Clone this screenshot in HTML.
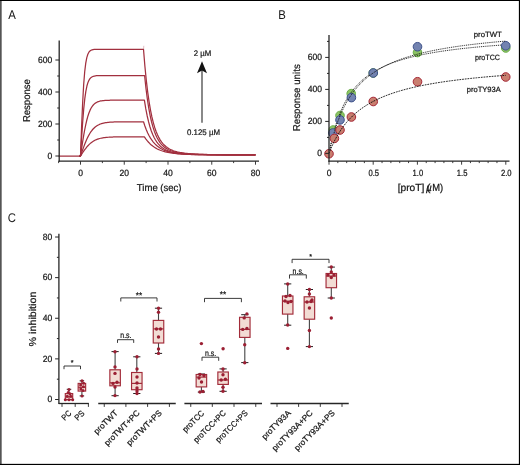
<!DOCTYPE html>
<html><head><meta charset="utf-8"><title>Figure</title>
<style>
html,body{margin:0;padding:0;background:#fff;}
body{width:520px;height:465px;overflow:hidden;font-family:'Liberation Sans', Arial, sans-serif;}
svg{display:block;font-family:'Liberation Sans', Arial, sans-serif;text-rendering:geometricPrecision;}
</style></head>
<body>
<svg width="520" height="465" viewBox="0 0 520 465">
<rect x="0" y="0" width="520" height="465" fill="#ffffff"/>
<path d="M58.62,156.00 L79.84,156.00 L80.50,156.00 L81.56,154.37 L82.63,152.76 L83.69,151.20 L84.76,149.70 L85.82,148.28 L86.89,146.96 L87.95,145.74 L89.02,144.63 L90.08,143.62 L91.15,142.71 L92.21,141.91 L93.28,141.20 L94.34,140.58 L95.40,140.04 L96.47,139.57 L97.53,139.16 L98.60,138.81 L99.66,138.51 L100.73,138.25 L101.79,138.03 L102.86,137.84 L103.92,137.68 L104.99,137.55 L106.05,137.43 L107.11,137.34 L108.18,137.25 L109.24,137.18 L110.31,137.12 L111.37,137.07 L112.44,137.03 L113.50,136.99 L114.57,136.96 L115.63,136.94 L116.70,136.92 L117.76,136.90 L118.82,136.88 L119.89,136.87 L120.95,136.86 L122.02,136.85 L123.08,136.84 L124.15,136.84 L125.21,136.83 L126.28,136.83 L127.34,136.82 L128.41,136.82 L129.47,136.82 L130.54,136.81 L131.60,136.81 L132.66,136.81 L133.73,136.81 L134.79,136.81 L135.86,136.81 L136.92,136.80 L137.99,136.80 L139.05,136.80 L140.12,136.80 L141.18,136.80 L142.25,136.80 L143.31,136.80 L144.38,136.80 L145.76,138.85 L147.15,140.66 L148.54,142.26 L149.93,143.68 L151.32,144.94 L152.71,146.06 L154.10,147.04 L155.49,147.92 L156.88,148.69 L158.27,149.38 L159.65,149.99 L161.04,150.53 L162.43,151.00 L163.82,151.43 L165.21,151.81 L166.60,152.14 L167.99,152.44 L169.38,152.70 L170.77,152.94 L172.16,153.15 L173.55,153.33 L174.93,153.50 L176.32,153.65 L177.71,153.78 L179.10,153.89 L180.49,154.00 L181.88,154.09 L183.27,154.17 L184.66,154.25 L186.05,154.31 L187.44,154.37 L188.82,154.42 L190.21,154.47 L191.60,154.51 L192.99,154.55 L194.38,154.58 L195.77,154.61 L197.16,154.64 L198.55,154.66 L199.94,154.68 L201.33,154.70 L202.72,154.72 L204.10,154.74 L205.49,154.75 L206.88,154.76 L208.27,154.77 L209.66,154.78 L211.05,154.79 L212.44,154.80 L213.83,154.81 L215.22,154.82 L216.61,154.82 L218.00,154.83 L219.38,154.83 L220.77,154.84 L222.16,154.84 L223.55,154.84 L224.94,154.85 L226.33,154.85 L227.72,154.85 L229.11,154.86 L230.50,154.86 L231.89,154.86 L233.28,154.86 L234.66,154.86 L236.05,154.86 L237.44,154.87 L238.83,154.87 L240.22,154.87 L241.61,154.87 L243.00,154.87 L244.39,154.87 L245.78,154.87 L247.17,154.87 L248.55,154.87 L249.94,154.87 L251.33,154.87 L252.72,154.87 L254.11,154.88 L255.50,154.88" fill="none" stroke="#a2303f" stroke-width="1.25" stroke-linejoin="round"/>
<path d="M79.19,156.00 L80.50,156.00 L81.55,152.97 L82.60,149.98 L83.65,147.09 L84.70,144.32 L85.75,141.72 L86.80,139.31 L87.85,137.09 L88.90,135.08 L89.95,133.28 L91.00,131.68 L92.05,130.26 L93.10,129.03 L94.15,127.95 L95.20,127.02 L96.25,126.22 L97.30,125.53 L98.35,124.95 L99.40,124.45 L100.45,124.03 L101.50,123.67 L102.55,123.37 L103.60,123.11 L104.65,122.89 L105.70,122.71 L106.75,122.56 L107.80,122.43 L108.85,122.32 L109.90,122.23 L110.95,122.15 L112.00,122.09 L113.05,122.04 L114.10,121.99 L115.15,121.95 L116.20,121.92 L117.25,121.90 L118.30,121.87 L119.35,121.86 L120.40,121.84 L121.45,121.83 L122.50,121.82 L123.55,121.81 L124.60,121.80 L125.65,121.79 L126.70,121.79 L127.75,121.78 L128.80,121.78 L129.85,121.78 L130.90,121.77 L131.95,121.77 L133.00,121.77 L134.05,121.77 L135.10,121.77 L136.15,121.77 L137.20,121.76 L138.25,121.76 L139.30,121.76 L140.35,121.76 L141.40,121.76 L142.45,121.76 L143.50,121.76 L144.90,126.01 L146.30,129.70 L147.70,132.91 L149.10,135.70 L150.50,138.12 L151.90,140.23 L153.30,142.06 L154.70,143.66 L156.10,145.05 L157.50,146.26 L158.90,147.32 L160.30,148.24 L161.70,149.04 L163.10,149.75 L164.50,150.36 L165.90,150.90 L167.30,151.37 L168.70,151.78 L170.10,152.14 L171.50,152.46 L172.90,152.73 L174.30,152.98 L175.70,153.19 L177.10,153.38 L178.50,153.55 L179.90,153.70 L181.30,153.83 L182.70,153.94 L184.10,154.04 L185.50,154.13 L186.90,154.21 L188.30,154.28 L189.70,154.34 L191.10,154.40 L192.50,154.45 L193.90,154.49 L195.30,154.53 L196.70,154.56 L198.10,154.60 L199.50,154.62 L200.90,154.65 L202.30,154.67 L203.70,154.69 L205.10,154.71 L206.50,154.73 L207.90,154.74 L209.30,154.75 L210.70,154.76 L212.10,154.77 L213.50,154.78 L214.90,154.79 L216.30,154.80 L217.70,154.81 L219.10,154.81 L220.50,154.82 L221.90,154.83 L223.30,154.83 L224.70,154.83 L226.10,154.84 L227.50,154.84 L228.90,154.85 L230.30,154.85 L231.70,154.85 L233.10,154.85 L234.50,154.86 L235.90,154.86 L237.30,154.86 L238.70,154.86 L240.10,154.86 L241.50,154.86 L242.90,154.87 L244.30,154.87 L245.70,154.87 L247.10,154.87 L248.50,154.87 L249.90,154.87 L251.30,154.87 L252.70,154.87 L254.10,154.87 L255.50,154.87" fill="none" stroke="#a2303f" stroke-width="1.25" stroke-linejoin="round"/>
<path d="M79.19,156.00 L80.50,156.00 L81.56,148.84 L82.63,141.91 L83.69,135.41 L84.76,129.50 L85.82,124.27 L86.89,119.75 L87.95,115.93 L89.02,112.75 L90.08,110.14 L91.15,108.03 L92.21,106.34 L93.28,105.00 L94.34,103.93 L95.40,103.10 L96.47,102.44 L97.53,101.93 L98.60,101.53 L99.66,101.23 L100.73,100.98 L101.79,100.80 L102.86,100.65 L103.92,100.54 L104.99,100.46 L106.05,100.39 L107.11,100.34 L108.18,100.30 L109.24,100.27 L110.31,100.24 L111.37,100.22 L112.44,100.21 L113.50,100.20 L114.57,100.19 L115.63,100.18 L116.70,100.18 L117.76,100.17 L118.82,100.17 L119.89,100.17 L120.95,100.17 L122.02,100.16 L123.08,100.16 L124.15,100.16 L125.21,100.16 L126.28,100.16 L127.34,100.16 L128.41,100.16 L129.47,100.16 L130.54,100.16 L131.60,100.16 L132.66,100.16 L133.73,100.16 L134.79,100.16 L135.86,100.16 L136.92,100.16 L137.99,100.16 L139.05,100.16 L140.12,100.16 L141.18,100.16 L142.25,100.16 L143.31,100.16 L144.38,100.16 L145.76,108.63 L147.15,115.74 L148.54,121.70 L149.93,126.71 L151.32,130.93 L152.71,134.47 L154.10,137.46 L155.49,139.98 L156.88,142.11 L158.27,143.91 L159.65,145.43 L161.04,146.73 L162.43,147.83 L163.82,148.76 L165.21,149.56 L166.60,150.25 L167.99,150.83 L169.38,151.33 L170.77,151.76 L172.16,152.14 L173.55,152.46 L174.93,152.74 L176.32,152.98 L177.71,153.19 L179.10,153.37 L180.49,153.53 L181.88,153.67 L183.27,153.80 L184.66,153.91 L186.05,154.00 L187.44,154.09 L188.82,154.17 L190.21,154.23 L191.60,154.30 L192.99,154.35 L194.38,154.40 L195.77,154.44 L197.16,154.48 L198.55,154.52 L199.94,154.55 L201.33,154.58 L202.72,154.60 L204.10,154.63 L205.49,154.65 L206.88,154.67 L208.27,154.69 L209.66,154.70 L211.05,154.72 L212.44,154.73 L213.83,154.74 L215.22,154.75 L216.61,154.76 L218.00,154.77 L219.38,154.78 L220.77,154.79 L222.16,154.80 L223.55,154.80 L224.94,154.81 L226.33,154.82 L227.72,154.82 L229.11,154.83 L230.50,154.83 L231.89,154.83 L233.28,154.84 L234.66,154.84 L236.05,154.84 L237.44,154.85 L238.83,154.85 L240.22,154.85 L241.61,154.85 L243.00,154.86 L244.39,154.86 L245.78,154.86 L247.17,154.86 L248.55,154.86 L249.94,154.86 L251.33,154.87 L252.72,154.87 L254.11,154.87 L255.50,154.87" fill="none" stroke="#a2303f" stroke-width="1.25" stroke-linejoin="round"/>
<path d="M79.19,156.00 L80.50,156.00 L81.57,138.44 L82.64,122.48 L83.70,109.18 L84.77,98.87 L85.84,91.33 L86.91,86.04 L87.98,82.43 L89.05,80.03 L90.11,78.44 L91.18,77.41 L92.25,76.74 L93.32,76.30 L94.39,76.02 L95.46,75.84 L96.52,75.73 L97.59,75.65 L98.66,75.61 L99.73,75.57 L100.80,75.56 L101.86,75.54 L102.93,75.53 L104.00,75.53 L105.07,75.53 L106.14,75.52 L107.21,75.52 L108.27,75.52 L109.34,75.52 L110.41,75.52 L111.48,75.52 L112.55,75.52 L113.62,75.52 L114.68,75.52 L115.75,75.52 L116.82,75.52 L117.89,75.52 L118.96,75.52 L120.02,75.52 L121.09,75.52 L122.16,75.52 L123.23,75.52 L124.30,75.52 L125.37,75.52 L126.43,75.52 L127.50,75.52 L128.57,75.52 L129.64,75.52 L130.71,75.52 L131.78,75.52 L132.84,75.52 L133.91,75.52 L134.98,75.52 L136.05,75.52 L137.12,75.52 L138.18,75.52 L139.25,75.52 L140.32,75.52 L141.39,75.52 L142.46,75.52 L143.53,75.52 L144.59,75.52 L145.98,88.49 L147.37,99.25 L148.75,108.17 L150.14,115.58 L151.53,121.74 L152.91,126.87 L154.30,131.14 L155.68,134.71 L157.07,137.70 L158.46,140.20 L159.84,142.30 L161.23,144.07 L162.62,145.56 L164.00,146.81 L165.39,147.88 L166.77,148.78 L168.16,149.56 L169.55,150.21 L170.93,150.78 L172.32,151.26 L173.71,151.68 L175.09,152.04 L176.48,152.35 L177.87,152.63 L179.25,152.87 L180.64,153.07 L182.02,153.26 L183.41,153.42 L184.80,153.56 L186.18,153.69 L187.57,153.80 L188.96,153.90 L190.34,153.99 L191.73,154.07 L193.12,154.14 L194.50,154.21 L195.89,154.27 L197.27,154.32 L198.66,154.37 L200.05,154.41 L201.43,154.45 L202.82,154.49 L204.21,154.52 L205.59,154.55 L206.98,154.58 L208.36,154.60 L209.75,154.63 L211.14,154.65 L212.52,154.67 L213.91,154.68 L215.30,154.70 L216.68,154.71 L218.07,154.73 L219.46,154.74 L220.84,154.75 L222.23,154.76 L223.61,154.77 L225.00,154.78 L226.39,154.79 L227.77,154.79 L229.16,154.80 L230.55,154.81 L231.93,154.81 L233.32,154.82 L234.71,154.82 L236.09,154.83 L237.48,154.83 L238.86,154.84 L240.25,154.84 L241.64,154.84 L243.02,154.85 L244.41,154.85 L245.80,154.85 L247.18,154.85 L248.57,154.86 L249.95,154.86 L251.34,154.86 L252.73,154.86 L254.11,154.86 L255.50,154.86" fill="none" stroke="#a2303f" stroke-width="1.25" stroke-linejoin="round"/>
<path d="M79.19,156.00 L80.50,156.00 L81.55,128.13 L82.60,103.82 L83.65,85.01 L84.70,71.77 L85.75,63.06 L86.80,57.57 L87.85,54.22 L88.90,52.20 L89.95,51.00 L91.00,50.29 L92.05,49.87 L93.10,49.63 L94.15,49.48 L95.20,49.40 L96.25,49.35 L97.30,49.32 L98.35,49.30 L99.40,49.29 L100.45,49.29 L101.50,49.28 L102.55,49.28 L103.60,49.28 L104.65,49.28 L105.70,49.28 L106.75,49.28 L107.80,49.28 L108.85,49.28 L109.90,49.28 L110.95,49.28 L112.00,49.28 L113.05,49.28 L114.10,49.28 L115.15,49.28 L116.20,49.28 L117.25,49.28 L118.30,49.28 L119.35,49.28 L120.40,49.28 L121.45,49.28 L122.50,49.28 L123.55,49.28 L124.60,49.28 L125.65,49.28 L126.70,49.28 L127.75,49.28 L128.80,49.28 L129.85,49.28 L130.90,49.28 L131.95,49.28 L133.00,49.28 L134.05,49.28 L135.10,49.28 L136.15,49.28 L137.20,49.28 L138.25,49.28 L139.30,49.28 L140.35,49.28 L141.40,49.28 L142.45,49.28 L143.50,49.28 L144.90,66.23 L146.30,80.33 L147.70,92.08 L149.10,101.88 L150.50,110.06 L151.90,116.90 L153.30,122.62 L154.70,127.42 L156.10,131.44 L157.50,134.83 L158.90,137.68 L160.30,140.08 L161.70,142.11 L163.10,143.83 L164.50,145.29 L165.90,146.54 L167.30,147.60 L168.70,148.50 L170.10,149.28 L171.50,149.95 L172.90,150.53 L174.30,151.03 L175.70,151.46 L177.10,151.83 L178.50,152.16 L179.90,152.45 L181.30,152.70 L182.70,152.92 L184.10,153.12 L185.50,153.29 L186.90,153.45 L188.30,153.58 L189.70,153.70 L191.10,153.81 L192.50,153.91 L193.90,154.00 L195.30,154.08 L196.70,154.15 L198.10,154.21 L199.50,154.27 L200.90,154.32 L202.30,154.37 L203.70,154.41 L205.10,154.45 L206.50,154.49 L207.90,154.52 L209.30,154.55 L210.70,154.58 L212.10,154.60 L213.50,154.63 L214.90,154.65 L216.30,154.67 L217.70,154.68 L219.10,154.70 L220.50,154.71 L221.90,154.73 L223.30,154.74 L224.70,154.75 L226.10,154.76 L227.50,154.77 L228.90,154.78 L230.30,154.79 L231.70,154.80 L233.10,154.80 L234.50,154.81 L235.90,154.81 L237.30,154.82 L238.70,154.82 L240.10,154.83 L241.50,154.83 L242.90,154.84 L244.30,154.84 L245.70,154.84 L247.10,154.85 L248.50,154.85 L249.90,154.85 L251.30,154.85 L252.70,154.86 L254.10,154.86 L255.50,154.86" fill="none" stroke="#a2303f" stroke-width="1.25" stroke-linejoin="round"/>
<line x1="143.60" y1="49.20" x2="143.80" y2="45.80" stroke="#a2303f" stroke-width="0.9" opacity="0.35"/>
<line x1="59.20" y1="40.50" x2="59.20" y2="161.80" stroke="#262626" stroke-width="1.3"/>
<line x1="58.60" y1="161.20" x2="259.00" y2="161.20" stroke="#262626" stroke-width="1.3"/>
<line x1="55.40" y1="156.00" x2="59.20" y2="156.00" stroke="#262626" stroke-width="1.0"/>
<text x="52.30" y="158.80" font-size="9.0" text-anchor="end" fill="#151515" stroke="#151515" stroke-width="0.22" textLength="4.75" lengthAdjust="spacingAndGlyphs">0</text>
<line x1="57.20" y1="140.00" x2="59.20" y2="140.00" stroke="#262626" stroke-width="1.0"/>
<line x1="55.40" y1="124.00" x2="59.20" y2="124.00" stroke="#262626" stroke-width="1.0"/>
<text x="52.30" y="126.80" font-size="9.0" text-anchor="end" fill="#151515" stroke="#151515" stroke-width="0.22" textLength="14.25" lengthAdjust="spacingAndGlyphs">200</text>
<line x1="57.20" y1="108.00" x2="59.20" y2="108.00" stroke="#262626" stroke-width="1.0"/>
<line x1="55.40" y1="92.00" x2="59.20" y2="92.00" stroke="#262626" stroke-width="1.0"/>
<text x="52.30" y="94.80" font-size="9.0" text-anchor="end" fill="#151515" stroke="#151515" stroke-width="0.22" textLength="14.25" lengthAdjust="spacingAndGlyphs">400</text>
<line x1="57.20" y1="76.00" x2="59.20" y2="76.00" stroke="#262626" stroke-width="1.0"/>
<line x1="55.40" y1="60.00" x2="59.20" y2="60.00" stroke="#262626" stroke-width="1.0"/>
<text x="52.30" y="62.80" font-size="9.0" text-anchor="end" fill="#151515" stroke="#151515" stroke-width="0.22" textLength="14.25" lengthAdjust="spacingAndGlyphs">600</text>
<line x1="58.62" y1="161.20" x2="58.62" y2="163.10" stroke="#262626" stroke-width="0.9"/>
<line x1="80.50" y1="161.20" x2="80.50" y2="164.70" stroke="#262626" stroke-width="0.9"/>
<text x="80.50" y="176.30" font-size="9.0" text-anchor="middle" fill="#151515" stroke="#151515" stroke-width="0.22" textLength="4.75" lengthAdjust="spacingAndGlyphs">0</text>
<line x1="102.38" y1="161.20" x2="102.38" y2="163.10" stroke="#262626" stroke-width="0.9"/>
<line x1="124.25" y1="161.20" x2="124.25" y2="164.70" stroke="#262626" stroke-width="0.9"/>
<text x="124.25" y="176.30" font-size="9.0" text-anchor="middle" fill="#151515" stroke="#151515" stroke-width="0.22" textLength="9.50" lengthAdjust="spacingAndGlyphs">20</text>
<line x1="146.12" y1="161.20" x2="146.12" y2="163.10" stroke="#262626" stroke-width="0.9"/>
<line x1="168.00" y1="161.20" x2="168.00" y2="164.70" stroke="#262626" stroke-width="0.9"/>
<text x="168.00" y="176.30" font-size="9.0" text-anchor="middle" fill="#151515" stroke="#151515" stroke-width="0.22" textLength="9.50" lengthAdjust="spacingAndGlyphs">40</text>
<line x1="189.88" y1="161.20" x2="189.88" y2="163.10" stroke="#262626" stroke-width="0.9"/>
<line x1="211.75" y1="161.20" x2="211.75" y2="164.70" stroke="#262626" stroke-width="0.9"/>
<text x="211.75" y="176.30" font-size="9.0" text-anchor="middle" fill="#151515" stroke="#151515" stroke-width="0.22" textLength="9.50" lengthAdjust="spacingAndGlyphs">60</text>
<line x1="233.62" y1="161.20" x2="233.62" y2="163.10" stroke="#262626" stroke-width="0.9"/>
<line x1="255.50" y1="161.20" x2="255.50" y2="164.70" stroke="#262626" stroke-width="0.9"/>
<text x="255.50" y="176.30" font-size="9.0" text-anchor="middle" fill="#151515" stroke="#151515" stroke-width="0.22" textLength="9.50" lengthAdjust="spacingAndGlyphs">80</text>
<text x="29.90" y="100.60" font-size="10" text-anchor="middle" fill="#151515" stroke="#151515" stroke-width="0.22" transform="rotate(-90 29.90 100.60)" textLength="43.00" lengthAdjust="spacingAndGlyphs">Response</text>
<text x="159.20" y="190.50" font-size="10" text-anchor="middle" fill="#151515" stroke="#151515" stroke-width="0.22" textLength="44.70" lengthAdjust="spacingAndGlyphs">Time (sec)</text>
<line x1="202.00" y1="122.70" x2="202.00" y2="70.00" stroke="#3a3a3a" stroke-width="1.2"/>
<path d="M202,61.2 L207,73.2 L202,70.6 L197,73.2 Z" fill="#111"/>
<text x="202.50" y="55.90" font-size="8.1" text-anchor="middle" fill="#151515" stroke="#151515" stroke-width="0.22" textLength="17.50" lengthAdjust="spacingAndGlyphs">2 µM</text>
<text x="203.50" y="134.70" font-size="8.1" text-anchor="middle" fill="#151515" stroke="#151515" stroke-width="0.22" textLength="33.00" lengthAdjust="spacingAndGlyphs">0.125 µM</text>
<text x="8.30" y="18.95" font-size="12.6" text-anchor="start" fill="#151515" stroke="#151515" stroke-width="0" textLength="7.60" lengthAdjust="spacingAndGlyphs">A</text>
<circle cx="333.20" cy="130.00" r="4.3" fill="#8cc364" stroke="#6aad48" stroke-width="1"/>
<circle cx="340.00" cy="115.50" r="4.3" fill="#8cc364" stroke="#6aad48" stroke-width="1"/>
<circle cx="351.20" cy="93.60" r="4.3" fill="#8cc364" stroke="#6aad48" stroke-width="1"/>
<circle cx="373.25" cy="73.00" r="4.3" fill="#8cc364" stroke="#6aad48" stroke-width="1"/>
<circle cx="417.50" cy="52.50" r="4.3" fill="#8cc364" stroke="#6aad48" stroke-width="1"/>
<circle cx="505.75" cy="48.00" r="4.3" fill="#8cc364" stroke="#6aad48" stroke-width="1"/>
<path d="M329.00,153.40 L331.95,139.13 L334.89,127.85 L337.84,118.70 L340.79,111.12 L343.73,104.76 L346.68,99.33 L349.63,94.64 L352.57,90.56 L355.52,86.97 L358.47,83.79 L361.41,80.95 L364.36,78.40 L367.31,76.09 L370.25,74.01 L373.20,72.10 L376.15,70.36 L379.09,68.76 L382.04,67.29 L384.99,65.92 L387.93,64.66 L390.88,63.48 L393.83,62.38 L396.77,61.36 L399.72,60.40 L402.67,59.50 L405.61,58.65 L408.56,57.85 L411.51,57.10 L414.45,56.38 L417.40,55.71 L420.35,55.07 L423.29,54.46 L426.24,53.88 L429.19,53.33 L432.13,52.81 L435.08,52.31 L438.03,51.83 L440.97,51.38 L443.92,50.94 L446.87,50.52 L449.81,50.12 L452.76,49.74 L455.71,49.37 L458.65,49.01 L461.60,48.67 L464.55,48.34 L467.49,48.02 L470.44,47.72 L473.39,47.42 L476.33,47.14 L479.28,46.86 L482.23,46.60 L485.17,46.34 L488.12,46.09 L491.07,45.85 L494.01,45.62 L496.96,45.39 L499.91,45.17 L502.85,44.96 L505.80,44.75" fill="none" stroke="#050505" stroke-width="0.85" stroke-dasharray="1.05 0.85"/>
<circle cx="332.80" cy="133.00" r="4.3" fill="#7383b0" stroke="#3d5189" stroke-width="1"/>
<circle cx="340.00" cy="119.90" r="4.3" fill="#7383b0" stroke="#3d5189" stroke-width="1"/>
<circle cx="351.40" cy="97.60" r="4.3" fill="#7383b0" stroke="#3d5189" stroke-width="1"/>
<circle cx="373.25" cy="73.00" r="4.3" fill="#7383b0" stroke="#3d5189" stroke-width="1"/>
<circle cx="417.50" cy="46.75" r="4.3" fill="#7383b0" stroke="#3d5189" stroke-width="1"/>
<circle cx="505.75" cy="45.75" r="4.3" fill="#7383b0" stroke="#3d5189" stroke-width="1"/>
<path d="M329.00,153.40 L331.95,140.62 L334.89,130.13 L337.84,121.38 L340.79,113.96 L343.73,107.59 L346.68,102.06 L349.63,97.22 L352.57,92.95 L355.52,89.14 L358.47,85.74 L361.41,82.67 L364.36,79.89 L367.31,77.37 L370.25,75.06 L373.20,72.94 L376.15,70.99 L379.09,69.20 L382.04,67.53 L384.99,65.98 L387.93,64.54 L390.88,63.20 L393.83,61.94 L396.77,60.76 L399.72,59.65 L402.67,58.60 L405.61,57.62 L408.56,56.69 L411.51,55.81 L414.45,54.97 L417.40,54.18 L420.35,53.43 L423.29,52.71 L426.24,52.03 L429.19,51.38 L432.13,50.76 L435.08,50.17 L438.03,49.60 L440.97,49.06 L443.92,48.54 L446.87,48.04 L449.81,47.56 L452.76,47.10 L455.71,46.66 L458.65,46.23 L461.60,45.82 L464.55,45.42 L467.49,45.04 L470.44,44.67 L473.39,44.32 L476.33,43.97 L479.28,43.64 L482.23,43.32 L485.17,43.01 L488.12,42.71 L491.07,42.42 L494.01,42.13 L496.96,41.86 L499.91,41.59 L502.85,41.34 L505.80,41.09" fill="none" stroke="#050505" stroke-width="0.85" stroke-dasharray="1.05 0.85"/>
<circle cx="329.00" cy="153.75" r="4.3" fill="#c97e6f" stroke="#a52635" stroke-width="1"/>
<circle cx="334.40" cy="138.40" r="4.3" fill="#c97e6f" stroke="#a52635" stroke-width="1"/>
<circle cx="340.00" cy="130.00" r="4.3" fill="#c97e6f" stroke="#a52635" stroke-width="1"/>
<circle cx="351.40" cy="117.00" r="4.3" fill="#c97e6f" stroke="#a52635" stroke-width="1"/>
<circle cx="373.25" cy="101.50" r="4.3" fill="#c97e6f" stroke="#a52635" stroke-width="1"/>
<circle cx="417.50" cy="81.75" r="4.3" fill="#c97e6f" stroke="#a52635" stroke-width="1"/>
<circle cx="505.75" cy="77.00" r="4.3" fill="#c97e6f" stroke="#a52635" stroke-width="1"/>
<path d="M329.00,153.40 L331.95,146.21 L334.89,140.05 L337.84,134.70 L340.79,130.03 L343.73,125.90 L346.68,122.22 L349.63,118.94 L352.57,115.98 L355.52,113.30 L358.47,110.87 L361.41,108.65 L364.36,106.61 L367.31,104.73 L370.25,103.00 L373.20,101.40 L376.15,99.91 L379.09,98.52 L382.04,97.23 L384.99,96.02 L387.93,94.88 L390.88,93.82 L393.83,92.81 L396.77,91.87 L399.72,90.97 L402.67,90.13 L405.61,89.32 L408.56,88.56 L411.51,87.84 L414.45,87.15 L417.40,86.50 L420.35,85.88 L423.29,85.28 L426.24,84.71 L429.19,84.17 L432.13,83.65 L435.08,83.15 L438.03,82.67 L440.97,82.21 L443.92,81.76 L446.87,81.34 L449.81,80.93 L452.76,80.54 L455.71,80.16 L458.65,79.79 L461.60,79.44 L464.55,79.10 L467.49,78.77 L470.44,78.45 L473.39,78.14 L476.33,77.84 L479.28,77.55 L482.23,77.27 L485.17,77.00 L488.12,76.74 L491.07,76.48 L494.01,76.24 L496.96,76.00 L499.91,75.76 L502.85,75.54 L505.80,75.32" fill="none" stroke="#050505" stroke-width="0.85" stroke-dasharray="1.8 0.9"/>
<line x1="329.00" y1="35.00" x2="329.00" y2="161.80" stroke="#262626" stroke-width="1.3"/>
<line x1="328.40" y1="161.20" x2="509.50" y2="161.20" stroke="#262626" stroke-width="1.3"/>
<line x1="325.20" y1="153.40" x2="329.00" y2="153.40" stroke="#262626" stroke-width="1.0"/>
<text x="322.10" y="156.20" font-size="9.0" text-anchor="end" fill="#151515" stroke="#151515" stroke-width="0.22" textLength="4.75" lengthAdjust="spacingAndGlyphs">0</text>
<line x1="327.00" y1="137.40" x2="329.00" y2="137.40" stroke="#262626" stroke-width="1.0"/>
<line x1="325.20" y1="121.40" x2="329.00" y2="121.40" stroke="#262626" stroke-width="1.0"/>
<text x="322.10" y="124.20" font-size="9.0" text-anchor="end" fill="#151515" stroke="#151515" stroke-width="0.22" textLength="14.25" lengthAdjust="spacingAndGlyphs">200</text>
<line x1="327.00" y1="105.40" x2="329.00" y2="105.40" stroke="#262626" stroke-width="1.0"/>
<line x1="325.20" y1="89.40" x2="329.00" y2="89.40" stroke="#262626" stroke-width="1.0"/>
<text x="322.10" y="92.20" font-size="9.0" text-anchor="end" fill="#151515" stroke="#151515" stroke-width="0.22" textLength="14.25" lengthAdjust="spacingAndGlyphs">400</text>
<line x1="327.00" y1="73.40" x2="329.00" y2="73.40" stroke="#262626" stroke-width="1.0"/>
<line x1="325.20" y1="57.40" x2="329.00" y2="57.40" stroke="#262626" stroke-width="1.0"/>
<text x="322.10" y="60.20" font-size="9.0" text-anchor="end" fill="#151515" stroke="#151515" stroke-width="0.22" textLength="14.25" lengthAdjust="spacingAndGlyphs">600</text>
<line x1="327.00" y1="41.40" x2="329.00" y2="41.40" stroke="#262626" stroke-width="1.0"/>
<line x1="329.00" y1="161.20" x2="329.00" y2="164.70" stroke="#262626" stroke-width="0.9"/>
<text x="329.00" y="175.90" font-size="9.0" text-anchor="middle" fill="#151515" stroke="#151515" stroke-width="0.22" textLength="4.75" lengthAdjust="spacingAndGlyphs">0</text>
<line x1="337.84" y1="161.20" x2="337.84" y2="163.10" stroke="#262626" stroke-width="0.9"/>
<line x1="346.68" y1="161.20" x2="346.68" y2="163.10" stroke="#262626" stroke-width="0.9"/>
<line x1="355.52" y1="161.20" x2="355.52" y2="163.10" stroke="#262626" stroke-width="0.9"/>
<line x1="364.36" y1="161.20" x2="364.36" y2="163.10" stroke="#262626" stroke-width="0.9"/>
<line x1="373.20" y1="161.20" x2="373.20" y2="164.70" stroke="#262626" stroke-width="0.9"/>
<text x="373.70" y="175.90" font-size="9.0" text-anchor="middle" fill="#151515" stroke="#151515" stroke-width="0.22" textLength="10.60" lengthAdjust="spacingAndGlyphs">0.5</text>
<line x1="382.04" y1="161.20" x2="382.04" y2="163.10" stroke="#262626" stroke-width="0.9"/>
<line x1="390.88" y1="161.20" x2="390.88" y2="163.10" stroke="#262626" stroke-width="0.9"/>
<line x1="399.72" y1="161.20" x2="399.72" y2="163.10" stroke="#262626" stroke-width="0.9"/>
<line x1="408.56" y1="161.20" x2="408.56" y2="163.10" stroke="#262626" stroke-width="0.9"/>
<line x1="417.40" y1="161.20" x2="417.40" y2="164.70" stroke="#262626" stroke-width="0.9"/>
<text x="417.90" y="175.90" font-size="9.0" text-anchor="middle" fill="#151515" stroke="#151515" stroke-width="0.22" textLength="10.60" lengthAdjust="spacingAndGlyphs">1.0</text>
<line x1="426.24" y1="161.20" x2="426.24" y2="163.10" stroke="#262626" stroke-width="0.9"/>
<line x1="435.08" y1="161.20" x2="435.08" y2="163.10" stroke="#262626" stroke-width="0.9"/>
<line x1="443.92" y1="161.20" x2="443.92" y2="163.10" stroke="#262626" stroke-width="0.9"/>
<line x1="452.76" y1="161.20" x2="452.76" y2="163.10" stroke="#262626" stroke-width="0.9"/>
<line x1="461.60" y1="161.20" x2="461.60" y2="164.70" stroke="#262626" stroke-width="0.9"/>
<text x="462.10" y="175.90" font-size="9.0" text-anchor="middle" fill="#151515" stroke="#151515" stroke-width="0.22" textLength="10.60" lengthAdjust="spacingAndGlyphs">1.5</text>
<line x1="470.44" y1="161.20" x2="470.44" y2="163.10" stroke="#262626" stroke-width="0.9"/>
<line x1="479.28" y1="161.20" x2="479.28" y2="163.10" stroke="#262626" stroke-width="0.9"/>
<line x1="488.12" y1="161.20" x2="488.12" y2="163.10" stroke="#262626" stroke-width="0.9"/>
<line x1="496.96" y1="161.20" x2="496.96" y2="163.10" stroke="#262626" stroke-width="0.9"/>
<line x1="505.80" y1="161.20" x2="505.80" y2="164.70" stroke="#262626" stroke-width="0.9"/>
<text x="506.30" y="175.90" font-size="9.0" text-anchor="middle" fill="#151515" stroke="#151515" stroke-width="0.22" textLength="10.60" lengthAdjust="spacingAndGlyphs">2.0</text>
<text x="299.60" y="97.75" font-size="10" text-anchor="middle" fill="#151515" stroke="#151515" stroke-width="0.22" transform="rotate(-90 299.60 97.75)" textLength="67.00" lengthAdjust="spacingAndGlyphs">Response units</text>
<text y="191.0" font-size="10.2" fill="#151515" stroke="#151515" stroke-width="0.22"><tspan x="397.7" textLength="26.7" lengthAdjust="spacingAndGlyphs">[proT]</tspan><tspan> </tspan><tspan x="426.9">(</tspan><tspan x="425.9" font-style="italic">µ</tspan><tspan x="432.3" textLength="10.9" lengthAdjust="spacingAndGlyphs">M)</tspan></text>
<text x="473.75" y="36.90" font-size="7.6" text-anchor="start" fill="#151515" stroke="#151515" stroke-width="0.22" textLength="28.00" lengthAdjust="spacingAndGlyphs">proTWT</text>
<text x="475.00" y="60.40" font-size="7.6" text-anchor="start" fill="#151515" stroke="#151515" stroke-width="0.22" textLength="25.00" lengthAdjust="spacingAndGlyphs">proTCC</text>
<text x="466.75" y="91.60" font-size="7.6" text-anchor="start" fill="#151515" stroke="#151515" stroke-width="0.22" textLength="34.00" lengthAdjust="spacingAndGlyphs">proTY93A</text>
<text x="278.20" y="18.95" font-size="12.6" text-anchor="start" fill="#151515" stroke="#151515" stroke-width="0" textLength="7.60" lengthAdjust="spacingAndGlyphs">B</text>
<line x1="58.90" y1="233.75" x2="58.90" y2="404.10" stroke="#262626" stroke-width="1.3"/>
<line x1="55.10" y1="399.50" x2="58.90" y2="399.50" stroke="#262626" stroke-width="1.0"/>
<text x="52.30" y="402.30" font-size="9.0" text-anchor="end" fill="#151515" stroke="#151515" stroke-width="0.22" textLength="4.75" lengthAdjust="spacingAndGlyphs">0</text>
<line x1="56.90" y1="379.19" x2="58.90" y2="379.19" stroke="#262626" stroke-width="1.0"/>
<line x1="55.10" y1="358.88" x2="58.90" y2="358.88" stroke="#262626" stroke-width="1.0"/>
<text x="52.30" y="361.68" font-size="9.0" text-anchor="end" fill="#151515" stroke="#151515" stroke-width="0.22" textLength="9.50" lengthAdjust="spacingAndGlyphs">20</text>
<line x1="56.90" y1="338.57" x2="58.90" y2="338.57" stroke="#262626" stroke-width="1.0"/>
<line x1="55.10" y1="318.26" x2="58.90" y2="318.26" stroke="#262626" stroke-width="1.0"/>
<text x="52.30" y="321.06" font-size="9.0" text-anchor="end" fill="#151515" stroke="#151515" stroke-width="0.22" textLength="9.50" lengthAdjust="spacingAndGlyphs">40</text>
<line x1="56.90" y1="297.95" x2="58.90" y2="297.95" stroke="#262626" stroke-width="1.0"/>
<line x1="55.10" y1="277.64" x2="58.90" y2="277.64" stroke="#262626" stroke-width="1.0"/>
<text x="52.30" y="280.44" font-size="9.0" text-anchor="end" fill="#151515" stroke="#151515" stroke-width="0.22" textLength="9.50" lengthAdjust="spacingAndGlyphs">60</text>
<line x1="56.90" y1="257.33" x2="58.90" y2="257.33" stroke="#262626" stroke-width="1.0"/>
<line x1="55.10" y1="237.02" x2="58.90" y2="237.02" stroke="#262626" stroke-width="1.0"/>
<text x="52.30" y="239.82" font-size="9.0" text-anchor="end" fill="#151515" stroke="#151515" stroke-width="0.22" textLength="9.50" lengthAdjust="spacingAndGlyphs">80</text>
<line x1="58.70" y1="403.50" x2="88.90" y2="403.50" stroke="#262626" stroke-width="1.3"/>
<line x1="62.00" y1="403.50" x2="62.00" y2="406.90" stroke="#262626" stroke-width="0.9"/>
<line x1="75.20" y1="403.50" x2="75.20" y2="406.90" stroke="#262626" stroke-width="0.9"/>
<line x1="88.40" y1="403.50" x2="88.40" y2="406.90" stroke="#262626" stroke-width="0.9"/>
<line x1="98.25" y1="403.50" x2="175.75" y2="403.50" stroke="#262626" stroke-width="1.3"/>
<line x1="104.25" y1="403.50" x2="104.25" y2="406.90" stroke="#262626" stroke-width="0.9"/>
<line x1="125.90" y1="403.50" x2="125.90" y2="406.90" stroke="#262626" stroke-width="0.9"/>
<line x1="147.60" y1="403.50" x2="147.60" y2="406.90" stroke="#262626" stroke-width="0.9"/>
<line x1="169.40" y1="403.50" x2="169.40" y2="406.90" stroke="#262626" stroke-width="0.9"/>
<line x1="184.40" y1="403.50" x2="262.00" y2="403.50" stroke="#262626" stroke-width="1.3"/>
<line x1="190.75" y1="403.50" x2="190.75" y2="406.90" stroke="#262626" stroke-width="0.9"/>
<line x1="212.30" y1="403.50" x2="212.30" y2="406.90" stroke="#262626" stroke-width="0.9"/>
<line x1="234.00" y1="403.50" x2="234.00" y2="406.90" stroke="#262626" stroke-width="0.9"/>
<line x1="255.75" y1="403.50" x2="255.75" y2="406.90" stroke="#262626" stroke-width="0.9"/>
<line x1="270.50" y1="403.50" x2="348.75" y2="403.50" stroke="#262626" stroke-width="1.3"/>
<line x1="277.00" y1="403.50" x2="277.00" y2="406.90" stroke="#262626" stroke-width="0.9"/>
<line x1="298.60" y1="403.50" x2="298.60" y2="406.90" stroke="#262626" stroke-width="0.9"/>
<line x1="320.30" y1="403.50" x2="320.30" y2="406.90" stroke="#262626" stroke-width="0.9"/>
<line x1="342.00" y1="403.50" x2="342.00" y2="406.90" stroke="#262626" stroke-width="0.9"/>
<text x="35.60" y="319.00" font-size="10" text-anchor="middle" fill="#151515" stroke="#151515" stroke-width="0.22" transform="rotate(-90 35.60 319.00)" textLength="54.80" lengthAdjust="spacingAndGlyphs">% inhibition</text>
<text x="7.80" y="222.40" font-size="12.6" text-anchor="start" fill="#151515" stroke="#151515" stroke-width="0" textLength="8.20" lengthAdjust="spacingAndGlyphs">C</text>
<line x1="69.00" y1="389.30" x2="69.00" y2="393.60" stroke="#444" stroke-width="1.1"/>
<line x1="69.00" y1="399.60" x2="69.00" y2="399.60" stroke="#444" stroke-width="1.1"/>
<line x1="66.75" y1="389.30" x2="71.25" y2="389.30" stroke="#222" stroke-width="1.0"/>
<line x1="66.75" y1="399.60" x2="71.25" y2="399.60" stroke="#222" stroke-width="1.0"/>
<rect x="65.30" y="393.60" width="7.40" height="6.00" fill="#f2dcd4" stroke="#a22b39" stroke-width="1.15"/>
<line x1="65.30" y1="397.00" x2="72.70" y2="397.00" stroke="#a22b39" stroke-width="1.2"/>
<circle cx="69.00" cy="389.40" r="1.5" fill="#9b1f33"/>
<circle cx="68.20" cy="392.50" r="1.5" fill="#9b1f33"/>
<circle cx="70.00" cy="393.80" r="1.5" fill="#9b1f33"/>
<circle cx="67.30" cy="396.30" r="1.5" fill="#9b1f33"/>
<circle cx="70.70" cy="396.30" r="1.5" fill="#9b1f33"/>
<circle cx="65.30" cy="399.70" r="1.5" fill="#9b1f33"/>
<circle cx="69.00" cy="399.70" r="1.5" fill="#9b1f33"/>
<circle cx="72.70" cy="399.70" r="1.5" fill="#9b1f33"/>
<line x1="81.90" y1="380.80" x2="81.90" y2="383.40" stroke="#444" stroke-width="1.1"/>
<line x1="81.90" y1="391.10" x2="81.90" y2="395.90" stroke="#444" stroke-width="1.1"/>
<line x1="79.65" y1="380.80" x2="84.15" y2="380.80" stroke="#222" stroke-width="1.0"/>
<line x1="79.65" y1="395.90" x2="84.15" y2="395.90" stroke="#222" stroke-width="1.0"/>
<rect x="78.15" y="383.40" width="7.50" height="7.70" fill="#f2dcd4" stroke="#a22b39" stroke-width="1.15"/>
<line x1="78.15" y1="387.30" x2="85.65" y2="387.30" stroke="#a22b39" stroke-width="1.2"/>
<circle cx="82.00" cy="380.80" r="1.5" fill="#9b1f33"/>
<circle cx="83.60" cy="383.20" r="1.5" fill="#9b1f33"/>
<circle cx="80.60" cy="385.00" r="1.5" fill="#9b1f33"/>
<circle cx="83.40" cy="386.80" r="1.5" fill="#9b1f33"/>
<circle cx="80.80" cy="389.00" r="1.5" fill="#9b1f33"/>
<circle cx="83.00" cy="390.60" r="1.5" fill="#9b1f33"/>
<circle cx="82.00" cy="395.90" r="1.5" fill="#9b1f33"/>
<line x1="115.10" y1="351.60" x2="115.10" y2="369.80" stroke="#444" stroke-width="1.1"/>
<line x1="115.10" y1="385.80" x2="115.10" y2="395.70" stroke="#444" stroke-width="1.1"/>
<line x1="111.50" y1="351.60" x2="118.70" y2="351.60" stroke="#222" stroke-width="1.0"/>
<line x1="111.50" y1="395.70" x2="118.70" y2="395.70" stroke="#222" stroke-width="1.0"/>
<rect x="109.85" y="369.80" width="10.50" height="16.00" fill="#f2dcd4" stroke="#a22b39" stroke-width="1.15"/>
<line x1="109.85" y1="382.80" x2="120.35" y2="382.80" stroke="#a22b39" stroke-width="1.2"/>
<circle cx="115.00" cy="351.70" r="1.7" fill="#9b1f33"/>
<circle cx="115.00" cy="366.90" r="1.7" fill="#9b1f33"/>
<circle cx="115.00" cy="373.40" r="1.7" fill="#9b1f33"/>
<circle cx="113.00" cy="383.40" r="1.7" fill="#9b1f33"/>
<circle cx="117.00" cy="382.20" r="1.7" fill="#9b1f33"/>
<circle cx="115.00" cy="387.00" r="1.7" fill="#9b1f33"/>
<circle cx="115.00" cy="395.60" r="1.7" fill="#9b1f33"/>
<line x1="136.80" y1="356.80" x2="136.80" y2="372.50" stroke="#444" stroke-width="1.1"/>
<line x1="136.80" y1="389.70" x2="136.80" y2="393.50" stroke="#444" stroke-width="1.1"/>
<line x1="133.20" y1="356.80" x2="140.40" y2="356.80" stroke="#222" stroke-width="1.0"/>
<line x1="133.20" y1="393.50" x2="140.40" y2="393.50" stroke="#222" stroke-width="1.0"/>
<rect x="131.55" y="372.50" width="10.50" height="17.20" fill="#f2dcd4" stroke="#a22b39" stroke-width="1.15"/>
<line x1="131.55" y1="383.40" x2="142.05" y2="383.40" stroke="#a22b39" stroke-width="1.2"/>
<circle cx="137.00" cy="356.70" r="1.7" fill="#9b1f33"/>
<circle cx="137.00" cy="369.00" r="1.7" fill="#9b1f33"/>
<circle cx="137.00" cy="377.00" r="1.7" fill="#9b1f33"/>
<circle cx="137.00" cy="383.00" r="1.7" fill="#9b1f33"/>
<circle cx="137.00" cy="388.00" r="1.7" fill="#9b1f33"/>
<circle cx="137.00" cy="391.00" r="1.7" fill="#9b1f33"/>
<circle cx="137.00" cy="393.50" r="1.7" fill="#9b1f33"/>
<line x1="158.50" y1="308.20" x2="158.50" y2="320.40" stroke="#444" stroke-width="1.1"/>
<line x1="158.50" y1="343.00" x2="158.50" y2="353.40" stroke="#444" stroke-width="1.1"/>
<line x1="154.90" y1="308.20" x2="162.10" y2="308.20" stroke="#222" stroke-width="1.0"/>
<line x1="154.90" y1="353.40" x2="162.10" y2="353.40" stroke="#222" stroke-width="1.0"/>
<rect x="153.25" y="320.40" width="10.50" height="22.60" fill="#f2dcd4" stroke="#a22b39" stroke-width="1.15"/>
<line x1="153.25" y1="328.90" x2="163.75" y2="328.90" stroke="#a22b39" stroke-width="1.2"/>
<circle cx="158.50" cy="308.20" r="1.7" fill="#9b1f33"/>
<circle cx="158.50" cy="312.20" r="1.7" fill="#9b1f33"/>
<circle cx="156.50" cy="329.00" r="1.7" fill="#9b1f33"/>
<circle cx="160.50" cy="329.00" r="1.7" fill="#9b1f33"/>
<circle cx="158.50" cy="337.00" r="1.7" fill="#9b1f33"/>
<circle cx="158.50" cy="349.00" r="1.7" fill="#9b1f33"/>
<circle cx="158.50" cy="353.40" r="1.7" fill="#9b1f33"/>
<line x1="201.40" y1="374.00" x2="201.40" y2="374.50" stroke="#444" stroke-width="1.1"/>
<line x1="201.40" y1="386.90" x2="201.40" y2="392.10" stroke="#444" stroke-width="1.1"/>
<line x1="197.80" y1="374.00" x2="205.00" y2="374.00" stroke="#222" stroke-width="1.0"/>
<line x1="197.80" y1="392.10" x2="205.00" y2="392.10" stroke="#222" stroke-width="1.0"/>
<rect x="196.15" y="374.50" width="10.50" height="12.40" fill="#f2dcd4" stroke="#a22b39" stroke-width="1.15"/>
<line x1="196.15" y1="377.10" x2="206.65" y2="377.10" stroke="#a22b39" stroke-width="1.2"/>
<circle cx="201.40" cy="343.60" r="1.7" fill="#9b1f33"/>
<circle cx="200.00" cy="374.50" r="1.7" fill="#9b1f33"/>
<circle cx="204.00" cy="375.50" r="1.7" fill="#9b1f33"/>
<circle cx="199.00" cy="378.00" r="1.7" fill="#9b1f33"/>
<circle cx="201.50" cy="382.00" r="1.7" fill="#9b1f33"/>
<circle cx="200.00" cy="392.00" r="1.7" fill="#9b1f33"/>
<circle cx="203.00" cy="391.50" r="1.7" fill="#9b1f33"/>
<line x1="223.10" y1="368.90" x2="223.10" y2="372.00" stroke="#444" stroke-width="1.1"/>
<line x1="223.10" y1="384.40" x2="223.10" y2="391.30" stroke="#444" stroke-width="1.1"/>
<line x1="219.50" y1="368.90" x2="226.70" y2="368.90" stroke="#222" stroke-width="1.0"/>
<line x1="219.50" y1="391.30" x2="226.70" y2="391.30" stroke="#222" stroke-width="1.0"/>
<rect x="217.85" y="372.00" width="10.50" height="12.40" fill="#f2dcd4" stroke="#a22b39" stroke-width="1.15"/>
<line x1="217.85" y1="380.00" x2="228.35" y2="380.00" stroke="#a22b39" stroke-width="1.2"/>
<circle cx="223.10" cy="348.70" r="1.7" fill="#9b1f33"/>
<circle cx="223.00" cy="369.00" r="1.7" fill="#9b1f33"/>
<circle cx="223.00" cy="374.80" r="1.7" fill="#9b1f33"/>
<circle cx="221.20" cy="380.00" r="1.7" fill="#9b1f33"/>
<circle cx="225.40" cy="379.20" r="1.7" fill="#9b1f33"/>
<circle cx="223.00" cy="387.20" r="1.7" fill="#9b1f33"/>
<circle cx="223.00" cy="391.30" r="1.7" fill="#9b1f33"/>
<line x1="244.80" y1="314.70" x2="244.80" y2="317.30" stroke="#444" stroke-width="1.1"/>
<line x1="244.80" y1="337.40" x2="244.80" y2="362.60" stroke="#444" stroke-width="1.1"/>
<line x1="241.20" y1="314.70" x2="248.40" y2="314.70" stroke="#222" stroke-width="1.0"/>
<line x1="241.20" y1="362.60" x2="248.40" y2="362.60" stroke="#222" stroke-width="1.0"/>
<rect x="239.55" y="317.30" width="10.50" height="20.10" fill="#f2dcd4" stroke="#a22b39" stroke-width="1.15"/>
<line x1="239.55" y1="329.40" x2="250.05" y2="329.40" stroke="#a22b39" stroke-width="1.2"/>
<circle cx="246.90" cy="313.90" r="1.7" fill="#9b1f33"/>
<circle cx="244.20" cy="317.90" r="1.7" fill="#9b1f33"/>
<circle cx="242.70" cy="329.40" r="1.7" fill="#9b1f33"/>
<circle cx="246.90" cy="328.50" r="1.7" fill="#9b1f33"/>
<circle cx="244.70" cy="344.80" r="1.7" fill="#9b1f33"/>
<circle cx="244.70" cy="362.70" r="1.7" fill="#9b1f33"/>
<line x1="287.70" y1="283.90" x2="287.70" y2="296.00" stroke="#444" stroke-width="1.1"/>
<line x1="287.70" y1="314.10" x2="287.70" y2="325.20" stroke="#444" stroke-width="1.1"/>
<line x1="284.10" y1="283.90" x2="291.30" y2="283.90" stroke="#222" stroke-width="1.0"/>
<line x1="284.10" y1="325.20" x2="291.30" y2="325.20" stroke="#222" stroke-width="1.0"/>
<rect x="282.45" y="296.00" width="10.50" height="18.10" fill="#f2dcd4" stroke="#a22b39" stroke-width="1.15"/>
<line x1="282.45" y1="301.20" x2="292.95" y2="301.20" stroke="#a22b39" stroke-width="1.2"/>
<circle cx="287.70" cy="284.00" r="1.7" fill="#9b1f33"/>
<circle cx="286.00" cy="296.50" r="1.7" fill="#9b1f33"/>
<circle cx="290.00" cy="295.50" r="1.7" fill="#9b1f33"/>
<circle cx="285.00" cy="301.00" r="1.7" fill="#9b1f33"/>
<circle cx="288.00" cy="302.50" r="1.7" fill="#9b1f33"/>
<circle cx="291.00" cy="301.50" r="1.7" fill="#9b1f33"/>
<circle cx="287.70" cy="325.00" r="1.7" fill="#9b1f33"/>
<circle cx="287.70" cy="348.40" r="1.7" fill="#9b1f33"/>
<line x1="309.40" y1="289.50" x2="309.40" y2="296.80" stroke="#444" stroke-width="1.1"/>
<line x1="309.40" y1="319.20" x2="309.40" y2="346.60" stroke="#444" stroke-width="1.1"/>
<line x1="305.80" y1="289.50" x2="313.00" y2="289.50" stroke="#222" stroke-width="1.0"/>
<line x1="305.80" y1="346.60" x2="313.00" y2="346.60" stroke="#222" stroke-width="1.0"/>
<rect x="304.15" y="296.80" width="10.50" height="22.40" fill="#f2dcd4" stroke="#a22b39" stroke-width="1.15"/>
<line x1="304.15" y1="302.00" x2="314.65" y2="302.00" stroke="#a22b39" stroke-width="1.2"/>
<circle cx="309.40" cy="289.50" r="1.7" fill="#9b1f33"/>
<circle cx="309.40" cy="294.00" r="1.7" fill="#9b1f33"/>
<circle cx="312.00" cy="300.00" r="1.7" fill="#9b1f33"/>
<circle cx="307.00" cy="302.00" r="1.7" fill="#9b1f33"/>
<circle cx="311.00" cy="301.50" r="1.7" fill="#9b1f33"/>
<circle cx="309.40" cy="308.00" r="1.7" fill="#9b1f33"/>
<circle cx="309.40" cy="330.50" r="1.7" fill="#9b1f33"/>
<circle cx="309.40" cy="346.60" r="1.7" fill="#9b1f33"/>
<line x1="331.30" y1="267.10" x2="331.30" y2="273.50" stroke="#444" stroke-width="1.1"/>
<line x1="331.30" y1="287.70" x2="331.30" y2="298.00" stroke="#444" stroke-width="1.1"/>
<line x1="327.70" y1="267.10" x2="334.90" y2="267.10" stroke="#222" stroke-width="1.0"/>
<line x1="327.70" y1="298.00" x2="334.90" y2="298.00" stroke="#222" stroke-width="1.0"/>
<rect x="326.05" y="273.50" width="10.50" height="14.20" fill="#f2dcd4" stroke="#a22b39" stroke-width="1.15"/>
<line x1="326.05" y1="276.10" x2="336.55" y2="276.10" stroke="#a22b39" stroke-width="1.2"/>
<circle cx="331.30" cy="267.00" r="1.7" fill="#9b1f33"/>
<circle cx="331.30" cy="272.00" r="1.7" fill="#9b1f33"/>
<circle cx="328.00" cy="275.00" r="1.7" fill="#9b1f33"/>
<circle cx="334.00" cy="275.00" r="1.7" fill="#9b1f33"/>
<circle cx="331.30" cy="277.50" r="1.7" fill="#9b1f33"/>
<circle cx="331.30" cy="298.00" r="1.7" fill="#9b1f33"/>
<circle cx="331.30" cy="318.00" r="1.7" fill="#9b1f33"/>
<path d="M64.00,369.20 L64.00,366.00 L80.50,366.00 L80.50,369.20" fill="none" stroke="#262626" stroke-width="0.9"/>
<text x="72.25" y="364.80" font-size="7.2" text-anchor="middle" fill="#151515" stroke="#151515" stroke-width="0.22">*</text>
<path d="M117.50,342.90 L117.50,339.70 L133.70,339.70 L133.70,342.90" fill="none" stroke="#262626" stroke-width="0.9"/>
<text x="125.90" y="338.30" font-size="8.3" text-anchor="middle" fill="#151515" stroke="#151515" stroke-width="0.22" textLength="11.20" lengthAdjust="spacingAndGlyphs">n.s.</text>
<path d="M120.80,301.50 L120.80,297.90 L157.00,297.90 L157.00,301.50" fill="none" stroke="#262626" stroke-width="0.9"/>
<text x="138.90" y="297.90" font-size="8.2" text-anchor="middle" fill="#151515" stroke="#151515" stroke-width="0.22">**</text>
<path d="M202.00,360.80 L202.00,357.20 L218.70,357.20 L218.70,360.80" fill="none" stroke="#262626" stroke-width="0.9"/>
<text x="210.65" y="355.60" font-size="8.3" text-anchor="middle" fill="#151515" stroke="#151515" stroke-width="0.22" textLength="11.20" lengthAdjust="spacingAndGlyphs">n.s.</text>
<path d="M204.50,302.20 L204.50,298.40 L241.40,298.40 L241.40,302.20" fill="none" stroke="#262626" stroke-width="0.9"/>
<text x="222.95" y="297.40" font-size="8.2" text-anchor="middle" fill="#151515" stroke="#151515" stroke-width="0.22">**</text>
<path d="M289.50,278.60 L289.50,274.80 L306.30,274.80 L306.30,278.60" fill="none" stroke="#262626" stroke-width="0.9"/>
<text x="298.20" y="273.70" font-size="8.3" text-anchor="middle" fill="#151515" stroke="#151515" stroke-width="0.22" textLength="11.20" lengthAdjust="spacingAndGlyphs">n.s.</text>
<path d="M292.10,263.10 L292.10,259.30 L329.00,259.30 L329.00,263.10" fill="none" stroke="#262626" stroke-width="0.9"/>
<text x="310.55" y="258.90" font-size="7.2" text-anchor="middle" fill="#151515" stroke="#151515" stroke-width="0.22">*</text>
<text x="72.00" y="413.80" font-size="8.3" text-anchor="end" fill="#151515" stroke="#151515" stroke-width="0.22" transform="rotate(-45 72.00 413.80)" textLength="10.20" lengthAdjust="spacingAndGlyphs">PC</text>
<text x="85.00" y="413.80" font-size="8.3" text-anchor="end" fill="#151515" stroke="#151515" stroke-width="0.22" transform="rotate(-45 85.00 413.80)" textLength="10.20" lengthAdjust="spacingAndGlyphs">PS</text>
<text x="118.30" y="413.50" font-size="8.3" text-anchor="end" fill="#151515" stroke="#151515" stroke-width="0.22" transform="rotate(-45 118.30 413.50)">proTWT</text>
<text x="140.30" y="413.50" font-size="8.3" text-anchor="end" fill="#151515" stroke="#151515" stroke-width="0.22" transform="rotate(-45 140.30 413.50)">proTWT+PC</text>
<text x="162.30" y="413.50" font-size="8.3" text-anchor="end" fill="#151515" stroke="#151515" stroke-width="0.22" transform="rotate(-45 162.30 413.50)">proTWT+PS</text>
<text x="204.80" y="413.70" font-size="8.3" text-anchor="end" fill="#151515" stroke="#151515" stroke-width="0.22" transform="rotate(-45 204.80 413.70)" textLength="27.00" lengthAdjust="spacingAndGlyphs">proTCC</text>
<text x="226.30" y="413.70" font-size="8.3" text-anchor="end" fill="#151515" stroke="#151515" stroke-width="0.22" transform="rotate(-45 226.30 413.70)" textLength="41.80" lengthAdjust="spacingAndGlyphs">proTCC+PC</text>
<text x="248.30" y="413.70" font-size="8.3" text-anchor="end" fill="#151515" stroke="#151515" stroke-width="0.22" transform="rotate(-45 248.30 413.70)" textLength="41.60" lengthAdjust="spacingAndGlyphs">proTCC+PS</text>
<text x="291.30" y="413.50" font-size="8.3" text-anchor="end" fill="#151515" stroke="#151515" stroke-width="0.22" transform="rotate(-45 291.30 413.50)">proTY93A</text>
<text x="313.30" y="413.50" font-size="8.3" text-anchor="end" fill="#151515" stroke="#151515" stroke-width="0.22" transform="rotate(-45 313.30 413.50)">proTY93A+PC</text>
<text x="335.30" y="413.50" font-size="8.3" text-anchor="end" fill="#151515" stroke="#151515" stroke-width="0.22" transform="rotate(-45 335.30 413.50)">proTY93A+PS</text>
<rect x="0" y="0" width="1" height="465" fill="#555555"/>
<rect x="1" y="0" width="1" height="465" fill="#8a8a8a"/>
<rect x="0" y="0" width="520" height="1" fill="#000"/>
<rect x="519" y="0" width="1" height="465" fill="#000"/>
<rect x="518" y="0" width="1" height="465" fill="#000" opacity="0.12"/>
<rect x="0" y="464" width="520" height="1" fill="#000"/>
<rect x="0" y="463" width="520" height="1" fill="#000" opacity="0.15"/>
</svg>
</body></html>
